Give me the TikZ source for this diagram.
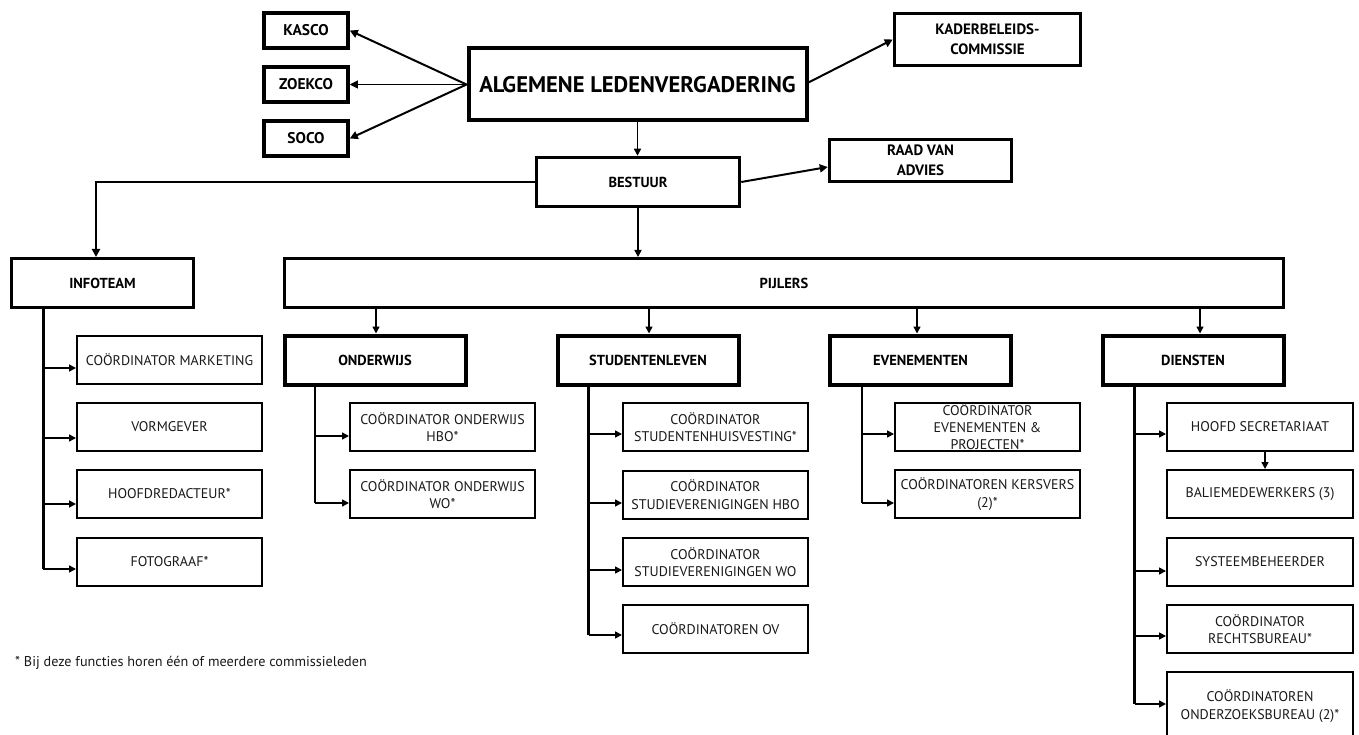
\documentclass[tikz,border=0pt]{standalone}
\usepackage{fontspec}
\setmainfont{PT Sans}
\usetikzlibrary{arrows.meta,calc}
\tikzset{
  hd/.style={draw=black, line width=3.5pt, fill=white, inner sep=0pt, align=center,
    font=\fontsize{14.5}{19}\selectfont\bfseries},
  ch/.style={draw=black, line width=2pt, fill=white, inner sep=0pt, align=center,
    minimum width=185pt, minimum height=48pt, text=black!90,
    font=\fontsize{14}{17.5}\selectfont},
  arr/.style={-{Triangle[length=7pt,width=7pt]}, line width=1.5pt},
  arrb/.style={-{Triangle[length=8pt,width=8pt]}, line width=2pt},
  trunk/.style={line width=2.5pt},
}
\begin{document}
\begin{tikzpicture}[x=1pt,y=-1pt]
\useasboundingbox[fill=white] (0,0) rectangle (1359,735);

% top level
\node[hd, minimum width=84pt, minimum height=35pt, font=\fontsize{15.5}{19}\selectfont\bfseries] (kasco) at (306,30.5) {KASCO};
\node[hd, minimum width=84pt, minimum height=35pt, font=\fontsize{15.5}{19}\selectfont\bfseries] (zoekco) at (306,84.5) {ZOEKCO};
\node[hd, minimum width=84pt, minimum height=35pt, font=\fontsize{15.5}{19}\selectfont\bfseries] (soco) at (306,138.5) {SOCO};
\node[hd, line width=4pt, minimum width=338pt, minimum height=72pt,
  font=\fontsize{22.6}{26}\selectfont\bfseries] (alv) at (637.5,84.5) {ALGEMENE LEDENVERGADERING};
\node[hd, minimum width=186pt, minimum height=52pt, font=\fontsize{15}{20}\selectfont\bfseries] (kader) at (987.5,39.5) {KADERBELEIDS-\\COMMISSIE};
\node[hd, minimum width=182pt, minimum height=42pt, font=\fontsize{15}{19.5}\selectfont\bfseries] (raad) at (920.5,160.5) {RAAD VAN\\ADVIES};
\node[hd, minimum width=203pt, minimum height=49pt] (bestuur) at (638,182) {BESTUUR};
\node[hd, line width=3pt, minimum width=182pt, minimum height=49pt] (infoteam) at (102.5,283) {INFOTEAM};
\node[hd, line width=3pt, minimum width=999pt, minimum height=49pt] (pijlers) at (784,283) {PIJLERS};

% pillars
\node[hd, line width=4pt, minimum width=181pt, minimum height=49pt] (onderwijs) at (375,360) {ONDERWIJS};
\node[hd, line width=4pt, minimum width=181pt, minimum height=49pt] (studenten) at (648,360) {STUDENTENLEVEN};
\node[hd, line width=4pt, minimum width=181pt, minimum height=49pt] (evenementen) at (920.5,360) {EVENEMENTEN};
\node[hd, line width=4pt, minimum width=181pt, minimum height=49pt] (diensten) at (1193,360) {DIENSTEN};

% infoteam children
\node[ch] (i1) at (169.5,360) {COÖRDINATOR MARKETING};
\node[ch] (i2) at (169.5,427) {VORMGEVER};
\node[ch] (i3) at (169.5,494) {HOOFDREDACTEUR*};
\node[ch] (i4) at (169.5,562) {FOTOGRAAF*};

% onderwijs children
\node[ch] (o1) at (442.5,427) {COÖRDINATOR ONDERWIJS\\HBO*};
\node[ch] (o2) at (442.5,494) {COÖRDINATOR ONDERWIJS\\WO*};

% studentenleven children
\node[ch] (s1) at (715.5,427) {COÖRDINATOR\\STUDENTENHUISVESTING*};
\node[ch] (s2) at (715.5,494.5) {COÖRDINATOR\\STUDIEVERENIGINGEN HBO};
\node[ch] (s3) at (715.5,562) {COÖRDINATOR\\STUDIEVERENIGINGEN WO};
\node[ch] (s4) at (715.5,629) {COÖRDINATOREN OV};

% evenementen children
\node[ch, font=\fontsize{14}{17}\selectfont] (e1) at (987.5,427) {COÖRDINATOR\\EVENEMENTEN \&\\PROJECTEN*};
\node[ch] (e2) at (987.5,494) {COÖRDINATOREN KERSVERS\\(2)*};

% diensten children
\node[ch, minimum width=186pt] (d1) at (1260,427) {HOOFD SECRETARIAAT};
\node[ch, minimum width=186pt] (d2) at (1260,494) {BALIEMEDEWERKERS (3)};
\node[ch, minimum width=186pt] (d3) at (1260,562) {SYSTEEMBEHEERDER};
\node[ch, minimum width=186pt] (d4) at (1260,629) {COÖRDINATOR\\RECHTSBUREAU*};
\node[ch, minimum width=186pt, minimum height=68pt] (d5) at (1260,706) {COÖRDINATOREN\\ONDERZOEKSBUREAU (2)*};

% footnote
\node[anchor=west, inner sep=0pt, text=black!90, font=\fontsize{14.2}{16}\selectfont] (note) at (15,663) {* Bij deze functies horen één of meerdere commissieleden};

% connectors top
\draw[arrb] (alv.west) -- (kasco.east);
\draw[-{Triangle[length=8pt,width=8pt]}, line width=1pt] (alv.west) -- (zoekco.east);
\draw[arrb] (alv.west) -- (soco.east);
\coordinate (alvR) at ($(alv.east)+(0,-2)$);
\draw[arrb] (alvR) -- (kader.west);
\draw[arr] (alv.south) -- (alv.south |- bestuur.north);
\coordinate (raadIn) at ($(raad.west)+(0,6.5)$);
\draw[arrb] (bestuur.east) -- (raadIn);
\coordinate (infoIn) at ($(infoteam.north)+(-6.5,0)$);
\draw[arrb] (bestuur.west) -| (infoIn);
\draw[arr] (bestuur.south) -- (bestuur.south |- pijlers.north);

% pijlers to pillars
\coordinate (pO) at ($(onderwijs.north)+(1,0)$);
\coordinate (pS) at ($(studenten.north)+(1,0)$);
\coordinate (pE) at ($(evenementen.north)+(-3.5,0)$);
\coordinate (pD) at ($(diensten.north)+(7,0)$);
\draw[arr] (pO |- pijlers.south) -- (pO);
\draw[arr] (pS |- pijlers.south) -- (pS);
\draw[arr] (pE |- pijlers.south) -- (pE);
\draw[arr] (pD |- pijlers.south) -- (pD);

% infoteam trunk
\coordinate (ti) at ($(infoteam.south west)+(33,0)$);
\coordinate (i1a) at ($(i1.west)+(0,8)$);
\coordinate (i2a) at ($(i2.west)+(0,11)$);
\coordinate (i3a) at ($(i3.west)+(0,10)$);
\coordinate (i4a) at ($(i4.west)+(0,7)$);
\draw[trunk, line width=3pt] (ti) -- (ti |- i4a);
\foreach \c in {i1a,i2a,i3a,i4a} \draw[arr] (ti |- \c) -- (\c);

% onderwijs trunk
\coordinate (to) at ($(onderwijs.south west)+(32,0)$);
\coordinate (o1a) at ($(o1.west)+(0,9)$);
\coordinate (o2a) at ($(o2.west)+(0,9)$);
\draw[trunk, line width=2pt] (to) -- (to |- o2a);
\foreach \c in {o1a,o2a} \draw[arr] (to |- \c) -- (\c);

% studentenleven trunk
\coordinate (ts) at ($(studenten.south west)+(33,0)$);
\coordinate (s1a) at ($(s1.west)+(0,7)$);
\coordinate (s2a) at ($(s2.west)+(0,8.5)$);
\coordinate (s3a) at ($(s3.west)+(0,8)$);
\coordinate (s4a) at ($(s4.west)+(0,6)$);
\draw[trunk] (ts) -- (ts |- s4a);
\foreach \c in {s1a,s2a,s3a,s4a} \draw[arr] (ts |- \c) -- (\c);

% evenementen trunk
\coordinate (te) at ($(evenementen.south west)+(34,0)$);
\coordinate (e1a) at ($(e1.west)+(0,7)$);
\coordinate (e2a) at ($(e2.west)+(0,9)$);
\draw[trunk, line width=2pt] (te) -- (te |- e2a);
\foreach \c in {e1a,e2a} \draw[arr] (te |- \c) -- (\c);

% diensten trunk
\coordinate (td) at ($(diensten.south west)+(34,0)$);
\coordinate (d1a) at ($(d1.west)+(0,7)$);
\coordinate (d3a) at ($(d3.west)+(0,9)$);
\coordinate (d4a) at ($(d4.west)+(0,7)$);
\coordinate (d5a) at ($(d5.west)+(0,-2)$);
\draw[trunk, line width=3pt] (td) -- (td |- d5a);
\foreach \c in {d1a,d3a,d4a,d5a} \draw[arr] (td |- \c) -- (\c);
\coordinate (d1b) at ($(d1.south)+(5,0)$);
\draw[arr] (d1b) -- (d1b |- d2.north);
\end{tikzpicture}
\end{document}
